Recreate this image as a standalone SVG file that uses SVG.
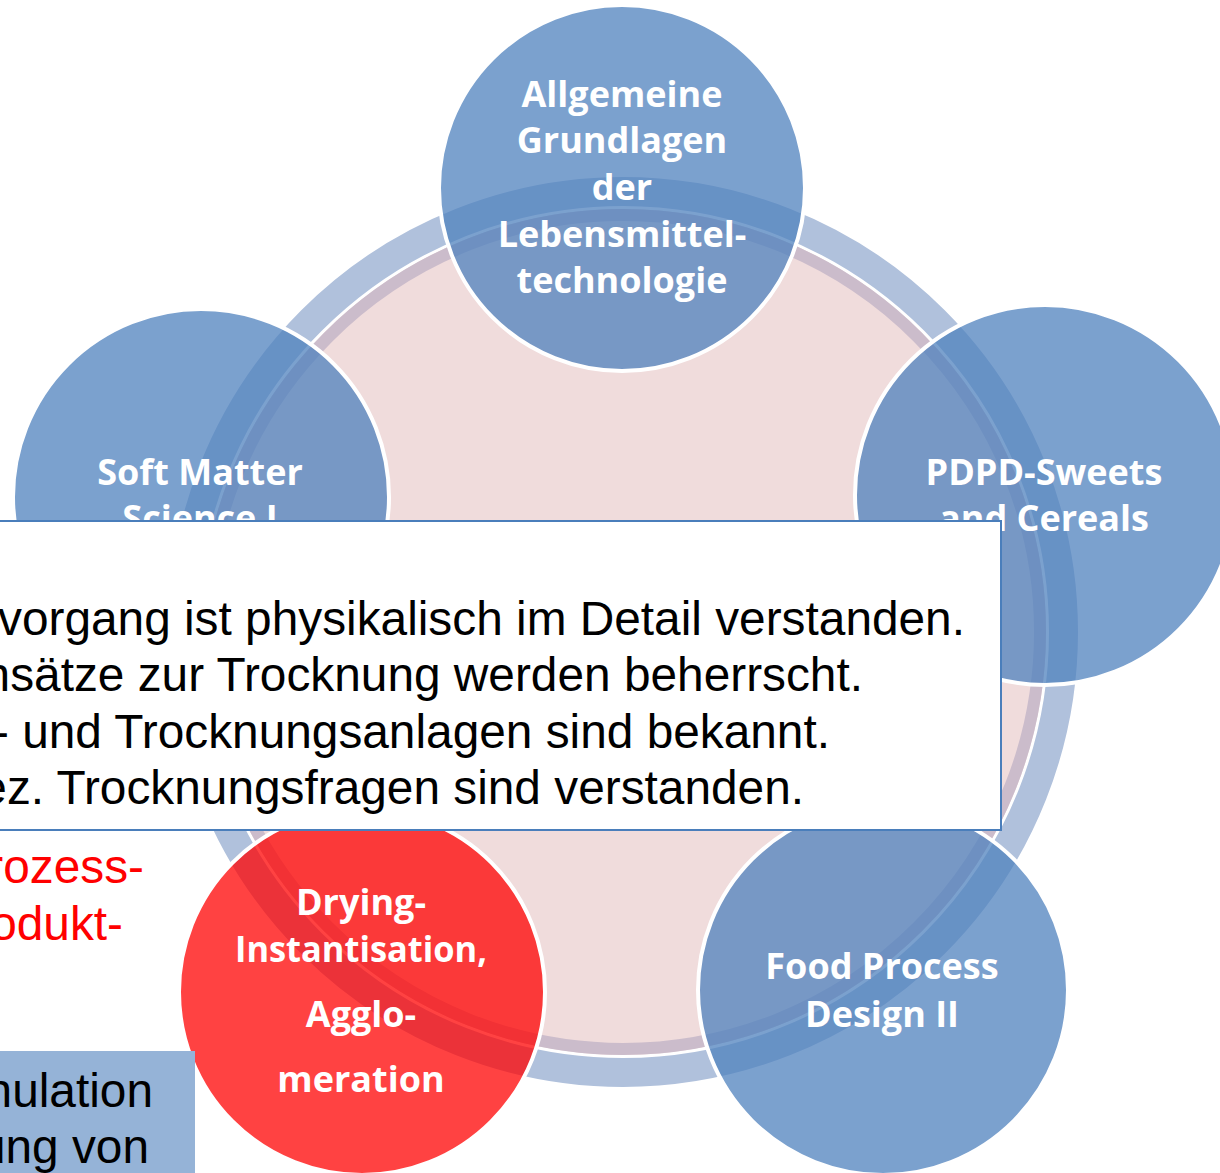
<svg xmlns="http://www.w3.org/2000/svg" width="1220" height="1173" viewBox="0 0 1220 1173">
<style>
.node{fill:#4f81bd;fill-opacity:0.75;stroke:#ffffff;stroke-width:4}
.red{fill:#ff0000;fill-opacity:0.74;stroke:#ffffff;stroke-width:4}
.lbl{font-family:"Open Sans","Liberation Sans",sans-serif;font-weight:bold;font-size:36px;fill:#ffffff;text-anchor:middle}
.body{font-family:"Liberation Sans",Arial,sans-serif;font-size:47.8px;fill:#000000;text-anchor:end}
.redtxt{font-family:"Liberation Sans",Arial,sans-serif;font-size:47.8px;fill:#ff0000;text-anchor:end}
</style>
<rect width="1220" height="1173" fill="#ffffff"/>
<g id="ring">
<circle cx="623" cy="632" r="440.5" fill="none" stroke="#b0c1dc" stroke-width="29"/>
<circle cx="623" cy="632" r="423" fill="#f0dcdc"/>
<circle cx="623" cy="632" r="417" fill="none" stroke="#cbbccb" stroke-width="12"/>
</g>
<g id="node-top">
<circle class="node" cx="622" cy="188" r="183"/>
<text class="lbl" x="622" y="107">Allgemeine</text>
<text class="lbl" x="622" y="153">Grundlagen</text>
<text class="lbl" x="622" y="200">der</text>
<text class="lbl" x="622" y="247">Lebensmittel-</text>
<text class="lbl" x="622" y="293">technologie</text>
</g>
<g id="node-right">
<circle class="node" cx="1045" cy="495" r="190"/>
<text class="lbl" x="1044" y="485">PDPD-Sweets</text>
<text class="lbl" x="1044" y="531">and Cereals</text>
</g>
<g id="node-bottom-right">
<circle class="node" cx="883" cy="990" r="185"/>
<text class="lbl" x="882" y="979">Food Process</text>
<text class="lbl" x="882" y="1027">Design II</text>
</g>
<g id="node-bottom-left">
<circle class="red" cx="362" cy="992" r="183"/>
<text class="lbl" x="361" y="915">Drying-</text>
<text class="lbl" x="361" y="962" textLength="252" lengthAdjust="spacingAndGlyphs">Instantisation,</text>
<text class="lbl" x="361" y="1027">Agglo-</text>
<text class="lbl" x="361" y="1092">meration</text>
</g>
<g id="node-left">
<circle class="node" cx="201" cy="497" r="188"/>
<text class="lbl" x="200" y="485">Soft Matter</text>
<text class="lbl" x="200" y="531">Science I</text>
</g>
<g id="textbox">
<rect x="-10" y="521" width="1011" height="309" fill="#ffffff" stroke="#4a7ebb" stroke-width="2"/>
<text class="body" x="965" y="635">vorgang ist physikalisch im Detail verstanden.</text>
<text class="body" x="863" y="691">nsätze zur Trocknung werden beherrscht.</text>
<text class="body" x="830" y="748">- und Trocknungsanlagen sind bekannt.</text>
<text class="body" x="804" y="804">ez. Trocknungsfragen sind verstanden.</text>
</g>
<g id="redtext">
<text class="redtxt" x="144" y="883">rozess-</text>
<text class="redtxt" x="123" y="940">odukt-</text>
</g>
<g id="bluebox">
<rect x="-10" y="1051" width="205" height="140" fill="#95b3d7"/>
<text class="body" x="153" y="1107">nulation</text>
<text class="body" x="149" y="1163">ung von</text>
</g>
</svg>
